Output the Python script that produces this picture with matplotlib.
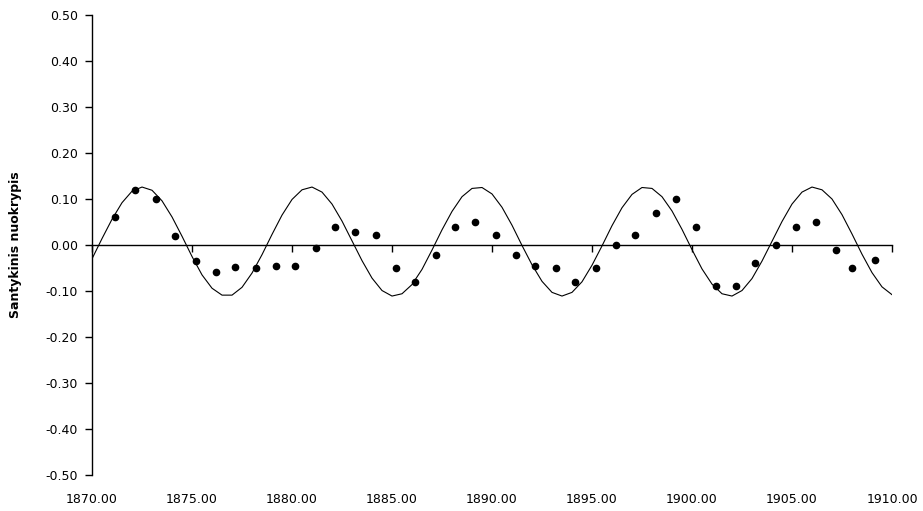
# Santykinis nuokrypis 1870-1910: yearly points and the fitted cycle curve
import numpy as np
import matplotlib.pyplot as plt

# Observed points (year, relative deviation)
dot_x = [1871.17, 1872.15, 1873.18, 1874.15, 1875.18, 1876.18, 1877.15, 1878.2,
         1879.18, 1880.15, 1881.18, 1882.15, 1883.15, 1884.2, 1885.18, 1886.15,
         1887.18, 1888.17, 1889.15, 1890.18, 1891.18, 1892.15, 1893.18, 1894.17,
         1895.18, 1896.18, 1897.15, 1898.2, 1899.2, 1900.18, 1901.2, 1902.18,
         1903.17, 1904.18, 1905.18, 1906.18, 1907.2, 1908.02, 1909.17]
dot_y = [0.06, 0.12, 0.10, 0.02, -0.035, -0.058, -0.048, -0.05, -0.046, -0.046,
         -0.006, 0.04, 0.029, 0.022, -0.05, -0.08, -0.022, 0.04, 0.051, 0.022,
         -0.022, -0.046, -0.05, -0.08, -0.05, 0.0, 0.022, 0.069, 0.10, 0.04,
         -0.09, -0.09, -0.04, 0.0, 0.04, 0.05, -0.011, -0.05, -0.033]

# Curve every half year, 1870.0 .. 1910.0
curve_y = [-0.030, 0.014, 0.056, 0.092, 0.117, 0.126, 0.119, 0.096, 0.061, 0.019,
           -0.025, -0.065, -0.094, -0.109, -0.109, -0.092, -0.061, -0.021, 0.023, 0.065,
           0.099, 0.120, 0.126, 0.115, 0.089, 0.052, 0.009, -0.034, -0.072, -0.099,
           -0.111, -0.106, -0.086, -0.053, -0.011, 0.033, 0.073, 0.105, 0.123, 0.125,
           0.111, 0.082, 0.043, -0.001, -0.043, -0.079, -0.103, -0.111, -0.103, -0.080,
           -0.044, -0.002, 0.042, 0.081, 0.110, 0.125, 0.123, 0.105, 0.074, 0.034,
           -0.010, -0.052, -0.085, -0.106, -0.111, -0.099, -0.073, -0.035, 0.008, 0.051,
           0.089, 0.115, 0.126, 0.120, 0.100, 0.066, 0.024, -0.020, -0.060, -0.091,
           -0.108]
curve_x = np.linspace(1870, 1910, len(curve_y))

x_ticks = [1870, 1875, 1880, 1885, 1890, 1895, 1900, 1905, 1910]
x_labels = ['1870.00', '1875.00', '1880.00', '1885.00', '1890.00',
            '1895.00', '1900.00', '1905.00', '1910.00']
y_ticks = [0.5, 0.4, 0.3, 0.2, 0.1, 0.0, -0.1, -0.2, -0.3, -0.4, -0.5]
y_labels = ['0.50', '0.40', '0.30', '0.20', '0.10', '0.00',
            '-0.10', '-0.20', '-0.30', '-0.40', '-0.50']

plt.rcParams['font.family'] = ['DejaVu Sans']
plt.rcParams['font.size'] = 9

fig = plt.figure(figsize=(9.23, 5.11), dpi=100)
ax = fig.add_axes([0.0997, 0.0705, 0.8667, 0.9001])

ax.plot(curve_x, curve_y, color='black', lw=0.8)
ax.plot(dot_x, dot_y, 'o', color='black', ms=4.5, mec='black')

ax.set_xlim(1870, 1910)
ax.set_ylim(-0.5, 0.5)

# axis look: left spine, horizontal axis line through zero, labels at the bottom
for s in ['top', 'right']:
    ax.spines[s].set_visible(False)
ax.spines['left'].set_linewidth(1.0)
ax.spines['bottom'].set_position(('data', 0))
ax.spines['bottom'].set_linewidth(1.0)

ax.set_yticks(y_ticks)
ax.set_yticklabels(y_labels)
ax.tick_params(axis='y', direction='out', length=5, width=1.0, pad=5)

ax.set_xticks(x_ticks)
ax.tick_params(axis='x', direction='out', length=5, width=1.0, labelbottom=False)

sec = ax.secondary_xaxis('bottom')
sec.spines['bottom'].set_visible(False)
sec.set_xticks(x_ticks)
sec.set_xticklabels(x_labels)
sec.tick_params(axis='x', length=0, pad=13)

ax.set_ylabel('Santykinis nuokrypis', fontweight='bold', fontsize=9, labelpad=17)

fig.savefig('out.png', dpi=100)
